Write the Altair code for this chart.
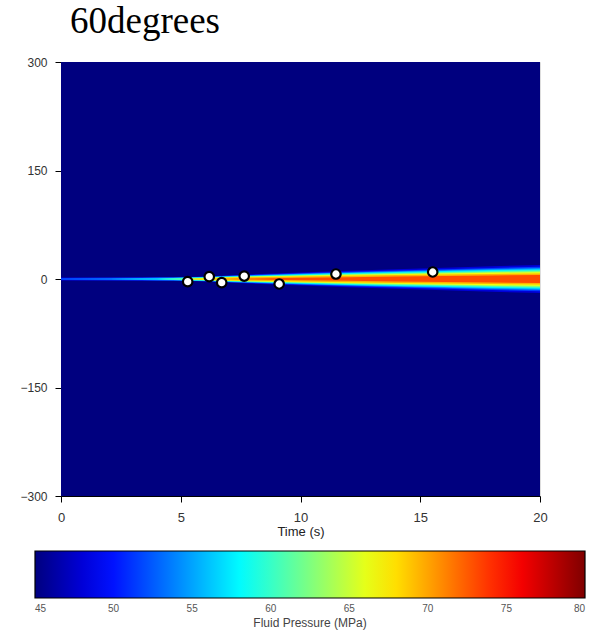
import altair as alt
import pandas as pd

# ---------------- data ----------------
title_text = "60degrees"
time_domain = [0, 20]
y_domain = [-300, 300]
time_ticks = [0, 5, 10, 15, 20]
y_ticks = [-300, -150, 0, 150, 300]
pressure_ticks = [45, 50, 55, 60, 65, 70, 75, 80]

# jet colour map stops (MPa) and colours
jet_stops = [45, 49.375, 53.75, 58.125, 62.5, 66.875, 71.25, 75.625, 80]
jet_colors = ["#00007f", "#0000ff", "#007fff", "#00ffff", "#7fff7f",
              "#ffff00", "#ff7f00", "#ff0000", "#7f0000"]

background_pressure = 45

# plume: half-width (same units as y axis) of each
# pressure contour band at each time
plume_times = [0, 2, 4, 5, 6, 7, 8, 10, 12, 14, 16, 18, 20]
band_fill = [48, 51.5, 54.5, 57.5, 60.5, 63.5, 66.5, 69.5, 73]
hw_465 = [2.2, 2.2, 2.3, 2.5, 3.5, 5.0, 6.5, 9.0, 11.5, 13.5, 15.5, 17.5, 19.5]
hw_50 = [1.5, 1.8, 2.0, 2.2, 3.1, 4.4, 5.7, 7.8, 10.0, 11.8, 13.5, 15.2, 16.8]
hw_53 = [0, 0.6, 1.8, 2.0, 2.8, 4.0, 5.2, 7.1, 9.1, 10.7, 12.2, 13.8, 15.2]
hw_56 = [0, 0, 0.8, 1.8, 2.5, 3.6, 4.6, 6.4, 8.2, 9.6, 11.0, 12.4, 13.6]
hw_59 = [0, 0, 0, 1.5, 2.2, 3.2, 4.1, 5.7, 7.2, 8.5, 9.8, 11.0, 12.1]
hw_62 = [0, 0, 0, 0, 1.9, 2.8, 3.6, 5.0, 6.4, 7.6, 8.7, 9.8, 10.8]
hw_65 = [0, 0, 0, 0, 1.5, 2.4, 3.1, 4.4, 5.6, 6.6, 7.6, 8.5, 9.4]
hw_68 = [0, 0, 0, 0, 0.5, 1.6, 2.4, 3.5, 4.6, 5.4, 6.2, 6.9, 7.7]
hw_71 = [0, 0, 0, 0, 0, 0, 0.6, 1.6, 2.5, 3.4, 4.2, 4.9, 5.6]
band_halfwidths = [hw_465, hw_50, hw_53, hw_56, hw_59, hw_62, hw_65, hw_68, hw_71]

# observation points
obs_time = [5.29, 6.19, 6.71, 7.65, 9.11, 11.48, 15.52]
obs_offset = [-3.7, 3.2, -5.1, 4.1, -6.9, 6.9, 9.7]

# ---------------- chart ----------------
FONT = "Liberation Sans"

color_scale = alt.Scale(domain=jet_stops, range=jet_colors, interpolate="rgb", clamp=True)
legend = alt.Legend(
    orient="none", legendX=-26, legendY=489, direction="horizontal",
    gradientLength=550, gradientThickness=47, values=pressure_ticks,
    title="Fluid Pressure (MPa)", titleOrient="bottom", titleAnchor="middle",
    titleFont=FONT, titleFontSize=12, titleFontWeight="normal", titleColor="#444",
    titlePadding=4, labelFont=FONT, labelFontSize=10, labelColor="#555",
    labelAlign="center", labelOffset=6, padding=0,
    gradientStrokeColor="black", gradientStrokeWidth=1.2, format="d",
)
xscale = alt.Scale(domain=time_domain, nice=False, zero=False)
yscale = alt.Scale(domain=y_domain, nice=False, zero=False)
xaxis = alt.Axis(values=time_ticks, title="Time (s)", grid=False, labelFontSize=13,
                 titleFontSize=13, titleFontWeight="normal", titlePadding=1,
                 tickSize=6, labelPadding=9, labelFont=FONT, titleFont=FONT,
                 labelFlush=False, labelColor="#333", titleColor="#222",
                 domainColor="black", tickColor="black")
yaxis = alt.Axis(values=y_ticks, title=None, grid=False, labelFontSize=12,
                 tickSize=6, labelPadding=8, labelFont=FONT, labelColor="#333",
                 labelFlush=False, domainColor="black", tickColor="black")

bg_df = pd.DataFrame({"t0": [time_domain[0]], "t1": [time_domain[1]],
                      "y0": [y_domain[0]], "y1": [y_domain[1]],
                      "p": [background_pressure]})
background = alt.Chart(bg_df).mark_rect().encode(
    x=alt.X("t0:Q", scale=xscale, axis=xaxis),
    x2="t1:Q",
    y=alt.Y("y0:Q", scale=yscale, axis=yaxis),
    y2="y1:Q",
    color=alt.Color("p:Q", scale=color_scale, legend=legend),
)

layers = [background]
for fill, hws in zip(band_fill, band_halfwidths):
    df = pd.DataFrame({"t": plume_times,
                       "lo": [-w for w in hws],
                       "hi": hws,
                       "p": [fill] * len(plume_times)})
    layers.append(
        alt.Chart(df).mark_area(interpolate="linear").encode(
            x=alt.X("t:Q", scale=xscale, axis=xaxis),
            y=alt.Y("lo:Q", scale=yscale, axis=yaxis),
            y2="hi:Q",
            color=alt.Color("p:Q", scale=color_scale, legend=legend),
        )
    )

pts_df = pd.DataFrame({"t": obs_time, "y": obs_offset})
points = alt.Chart(pts_df).mark_point(
    filled=True, fill="white", stroke="black", strokeWidth=2.2, size=90, opacity=1
).encode(
    x=alt.X("t:Q", scale=xscale, axis=xaxis),
    y=alt.Y("y:Q", scale=yscale, axis=yaxis),
)
layers.append(points)

chart = alt.layer(*layers).properties(
    width=479, height=434,
    padding={"left": 61, "top": 62, "right": 49, "bottom": 148},
    autosize=alt.AutoSizeParams(type="none"),
    title=alt.TitleParams(title_text, font="Liberation Serif", fontSize=37,
                          fontWeight="normal", color="black", anchor="start",
                          frame="group", dx=9, offset=15),
).configure_view(strokeWidth=0).configure(background="white")

chart.save("out.html", embed_options={"renderer": "svg", "actions": False})
